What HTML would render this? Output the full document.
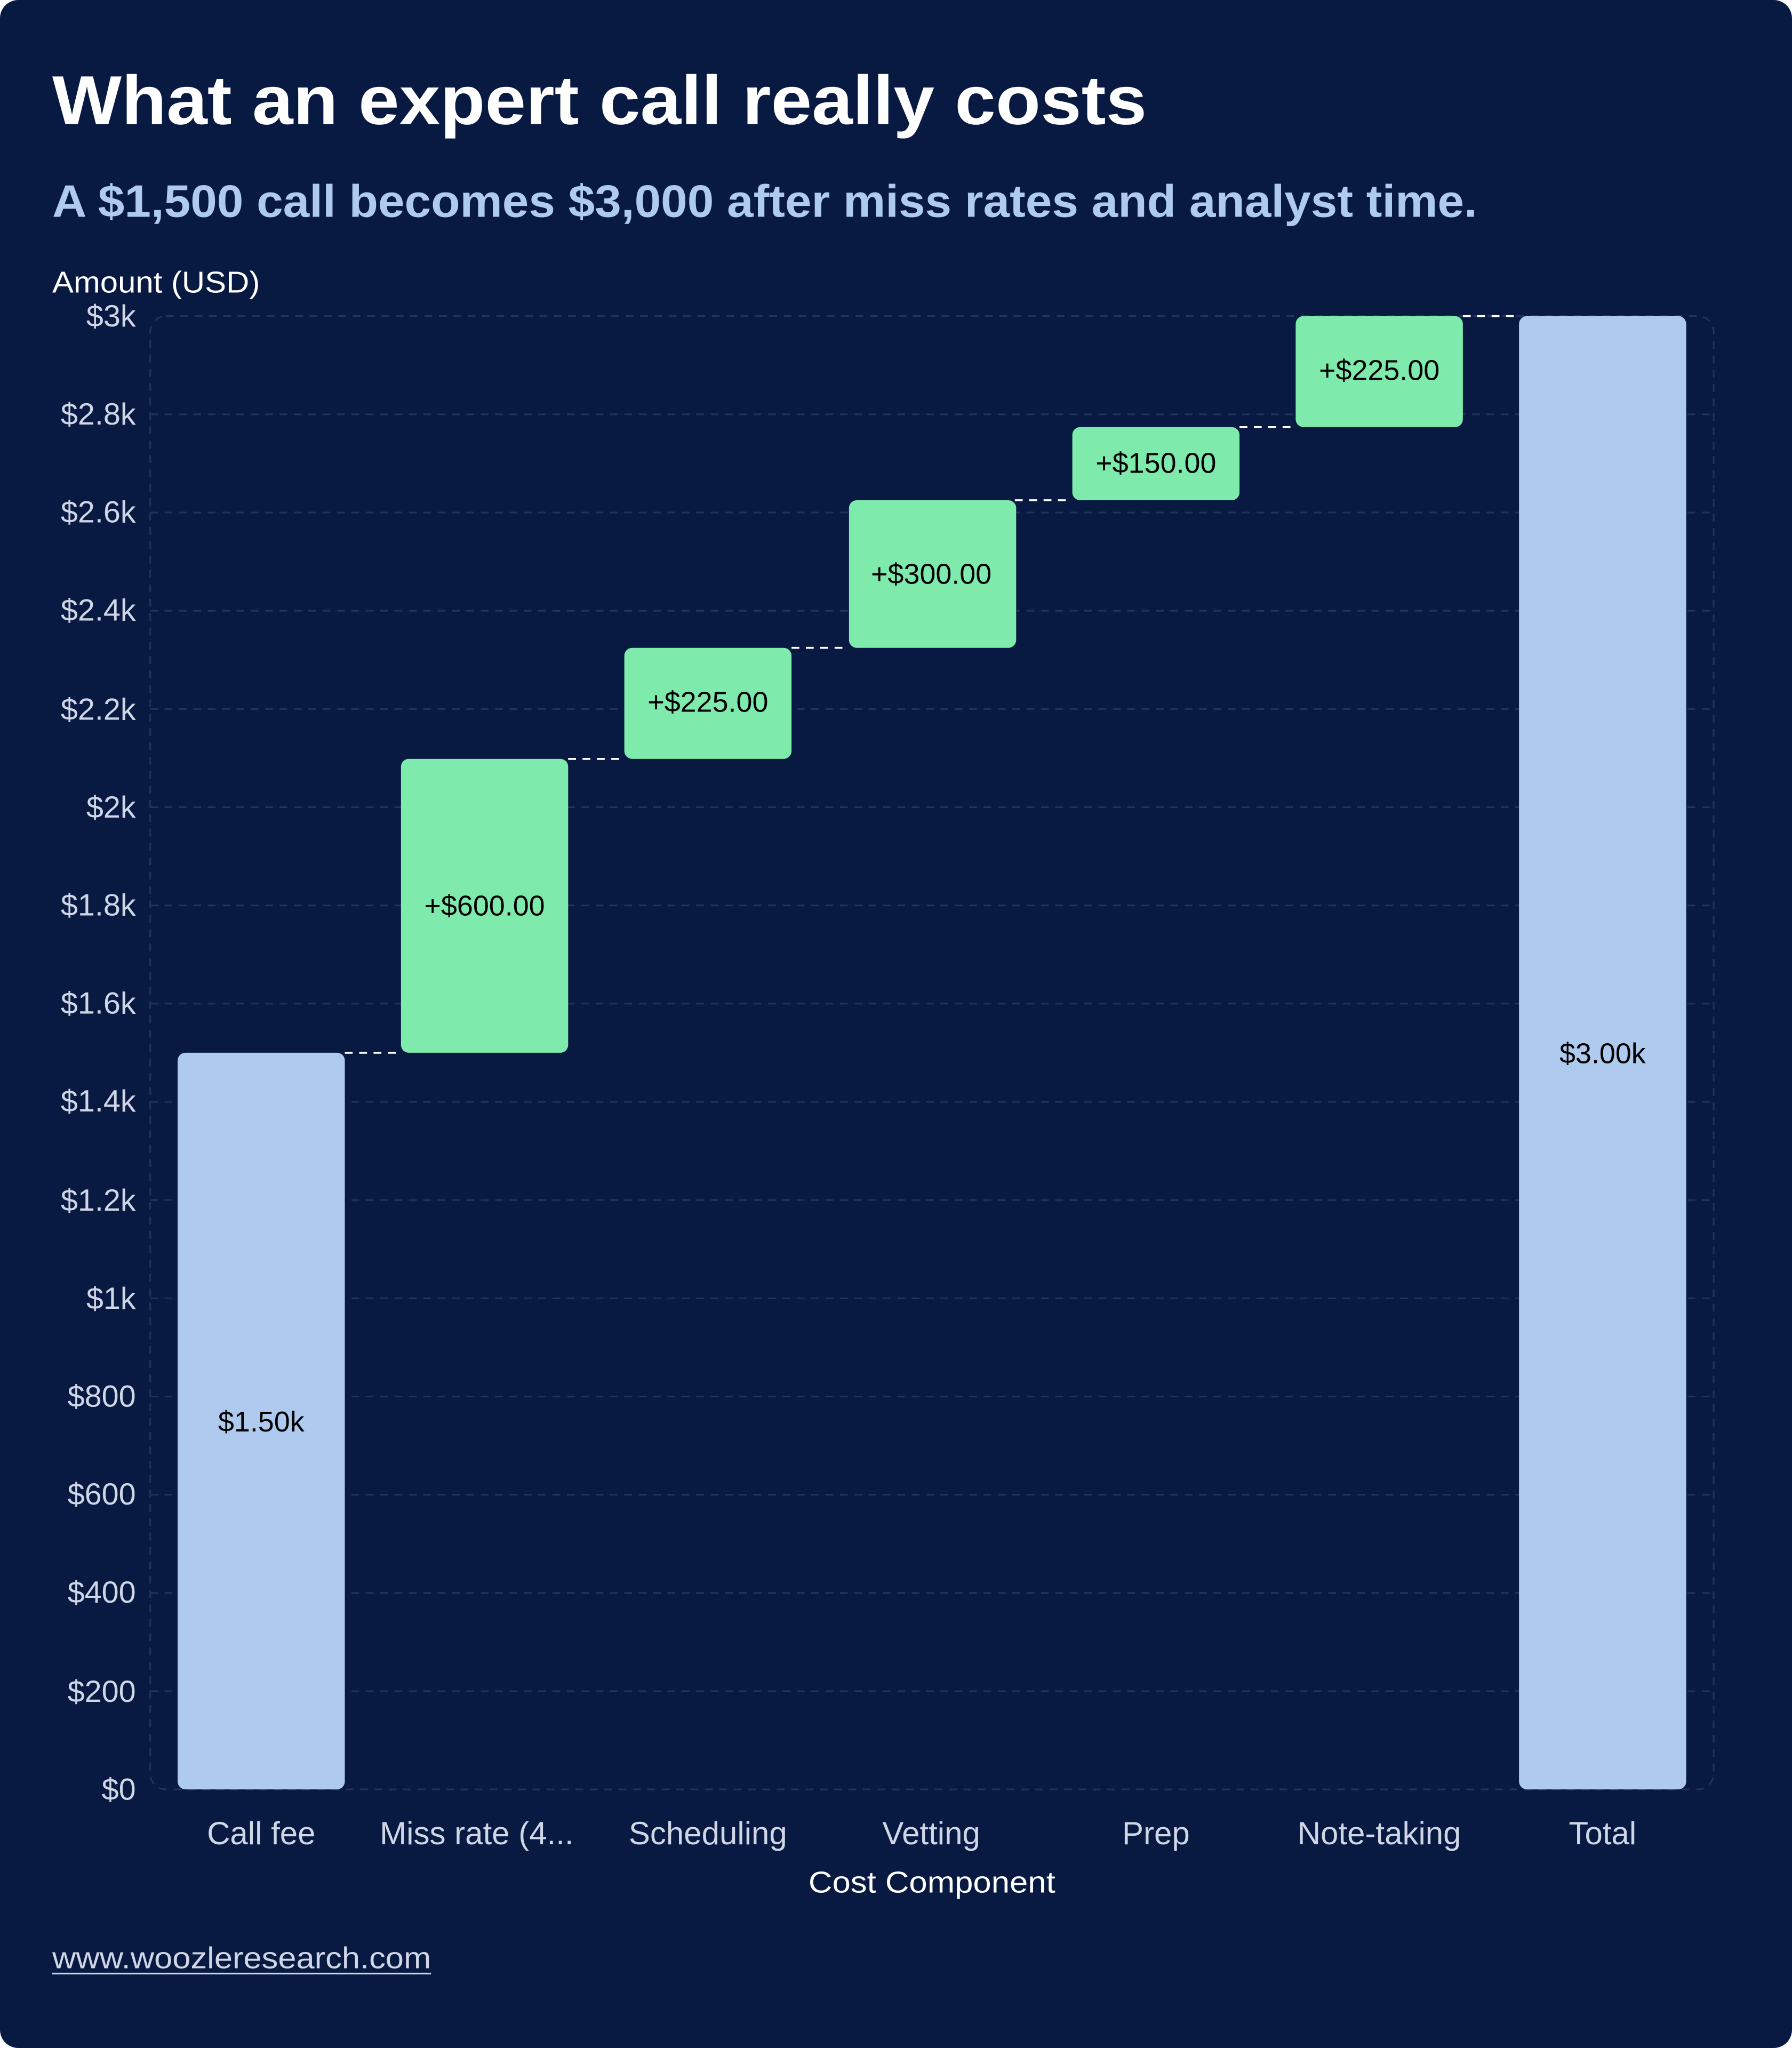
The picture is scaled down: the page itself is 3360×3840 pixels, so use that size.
<!DOCTYPE html>
<html><head><meta charset="utf-8"><style>
html,body{margin:0;padding:0;background:#fff;}
svg{display:block;}
text{font-family:"Liberation Sans","DejaVu Sans",sans-serif;}
</style></head><body>
<svg width="3360" height="3840" viewBox="0 0 1372 1568" xmlns="http://www.w3.org/2000/svg">
<rect x="0" y="0" width="1372" height="1568" rx="14" fill="#091a42"/>
<text x="40" y="95" font-size="53" font-weight="bold" fill="#ffffff" textLength="838" lengthAdjust="spacingAndGlyphs">What an expert call really costs</text>
<text x="40" y="166" font-size="35" font-weight="bold" fill="#aecbef" textLength="1091" lengthAdjust="spacingAndGlyphs">A $1,500 call becomes $3,000 after miss rates and analyst time.</text>
<text x="40" y="224" font-size="23" fill="#ffffff" textLength="159" lengthAdjust="spacingAndGlyphs">Amount (USD)</text>
<g stroke="#22325a" stroke-width="1.3" stroke-dasharray="6,5">
<line x1="115" y1="317.2" x2="1312" y2="317.2"/>
<line x1="115" y1="392.4" x2="1312" y2="392.4"/>
<line x1="115" y1="467.6" x2="1312" y2="467.6"/>
<line x1="115" y1="542.8" x2="1312" y2="542.8"/>
<line x1="115" y1="618" x2="1312" y2="618"/>
<line x1="115" y1="693.2" x2="1312" y2="693.2"/>
<line x1="115" y1="768.4" x2="1312" y2="768.4"/>
<line x1="115" y1="843.6" x2="1312" y2="843.6"/>
<line x1="115" y1="918.8" x2="1312" y2="918.8"/>
<line x1="115" y1="994" x2="1312" y2="994"/>
<line x1="115" y1="1069.2" x2="1312" y2="1069.2"/>
<line x1="115" y1="1144.4" x2="1312" y2="1144.4"/>
<line x1="115" y1="1219.6" x2="1312" y2="1219.6"/>
<line x1="115" y1="1294.8" x2="1312" y2="1294.8"/>
<rect x="115" y="242" width="1197" height="1128" rx="12" fill="none"/>
</g>
<g font-size="23.5" fill="#cfd6e6" text-anchor="end">
<text x="104" y="250">$3k</text>
<text x="104" y="325">$2.8k</text>
<text x="104" y="400">$2.6k</text>
<text x="104" y="475">$2.4k</text>
<text x="104" y="551">$2.2k</text>
<text x="104" y="626">$2k</text>
<text x="104" y="701">$1.8k</text>
<text x="104" y="776">$1.6k</text>
<text x="104" y="851">$1.4k</text>
<text x="104" y="927">$1.2k</text>
<text x="104" y="1002">$1k</text>
<text x="104" y="1077">$800</text>
<text x="104" y="1152">$600</text>
<text x="104" y="1227">$400</text>
<text x="104" y="1303">$200</text>
<text x="104" y="1378">$0</text>
</g>
<g stroke="#ffffff" stroke-width="1.5" stroke-dasharray="6,5">
<line x1="264" y1="806" x2="307" y2="806"/>
<line x1="435" y1="581" x2="478" y2="581"/>
<line x1="606" y1="496" x2="650" y2="496"/>
<line x1="777" y1="383" x2="821" y2="383"/>
<line x1="949" y1="327" x2="992" y2="327"/>
<line x1="1120" y1="242" x2="1163" y2="242"/>
</g>
<g fill="#aecbef">
<rect x="136" y="806" width="128" height="564" rx="6"/>
<rect x="1163" y="242" width="128" height="1128" rx="6"/>
</g>
<g fill="#7eeaac">
<rect x="307" y="581" width="128" height="225" rx="6"/>
<rect x="478" y="496" width="128" height="85" rx="6"/>
<rect x="650" y="383" width="128" height="113" rx="6"/>
<rect x="821" y="327" width="128" height="56" rx="6"/>
<rect x="992" y="242" width="128" height="85" rx="6"/>
</g>
<g font-size="22" fill="#000000" text-anchor="middle">
<text x="200" y="1096">$1.50k</text>
<text x="371" y="701">+$600.00</text>
<text x="542" y="545">+$225.00</text>
<text x="713" y="447">+$300.00</text>
<text x="885" y="362">+$150.00</text>
<text x="1056" y="291">+$225.00</text>
<text x="1227" y="814">$3.00k</text>
</g>
<g font-size="24.5" fill="#cfd6e6" text-anchor="middle">
<text x="200" y="1412">Call fee</text>
<text x="365" y="1412">Miss rate (4...</text>
<text x="542" y="1412">Scheduling</text>
<text x="713" y="1412">Vetting</text>
<text x="885" y="1412">Prep</text>
<text x="1056" y="1412">Note-taking</text>
<text x="1227" y="1412">Total</text>
</g>
<text x="619" y="1449" font-size="23" fill="#ffffff" textLength="189" lengthAdjust="spacingAndGlyphs">Cost Component</text>
<text x="40" y="1507" font-size="23" fill="#cfd6e6" textLength="290" lengthAdjust="spacingAndGlyphs">www.woozleresearch.com</text>
<line x1="40" y1="1511" x2="330" y2="1511" stroke="#cfd6e6" stroke-width="1.3"/>
</svg>
</body></html>
